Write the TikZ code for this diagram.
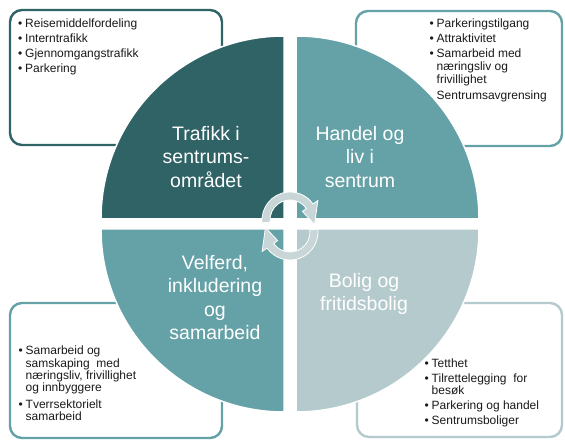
\documentclass[tikz,border=0pt]{standalone}
\usepackage{fontspec}
\setmainfont{Liberation Sans}
\usetikzlibrary{calc}
\definecolor{dk}{HTML}{2F6366}
\definecolor{md}{HTML}{64A2A7}
\definecolor{lt}{HTML}{B4CACD}
\definecolor{arw}{HTML}{C8D6D8}
\definecolor{txt}{HTML}{1A1A1A}
\newcommand\itm[1]{\hbox{\makebox[7pt][l]{•}#1}}
\newcommand\cnt[1]{\hbox{\hspace*{7pt}#1}}
\begin{document}
\begin{tikzpicture}[x=1pt,y=1pt,
 infobox/.style={line width=2.4pt, rounded corners=12pt, fill=white},
 quad/.style={draw=white, line width=1.5pt},
 qtext/.style={text=white, font=\fontsize{19.5}{23.5}\selectfont, align=center, inner sep=0},
 btext/.style={anchor=base west, inner sep=0, font=\fontsize{12}{14}\selectfont, text=txt},
 cyc/.style={fill=arw, draw=white, line width=0.8pt}]
\useasboundingbox (0,0) rectangle (565,441);
\fill[white] (0,0) rectangle (565,441);
% boxes
\draw[infobox, draw=dk] (10,296) rectangle (222,431);
\draw[infobox, draw=md] (356,295) rectangle (562,430);
\draw[infobox, draw=md] (10,3) rectangle (222,138);
\draw[infobox, draw=lt] (357,4) rectangle (562,138);
% quadrants
\filldraw[quad, fill=dk] (284,222) -- (101,222) arc[start angle=180, end angle=90, radius=183] -- cycle;
\filldraw[quad, fill=md] (296,222) -- (296,405) arc[start angle=90, end angle=0, radius=183] -- cycle;
\filldraw[quad, fill=md] (284,212) -- (101,212) arc[start angle=180, end angle=270, radius=183] -- cycle;
\filldraw[quad, fill=lt] (296,212) -- (479,212) arc[start angle=0, end angle=-90, radius=183] -- cycle;
% quadrant texts
\node[qtext] (q1) at (206,284) {Trafikk i\\sentrums-\\området};
\node[qtext] (q2) at (360,284) {Handel og\\liv i\\sentrum};
\node[qtext] (q3) at (215,143.5) {Velferd,\\inkludering\\og\\samarbeid};
\node[qtext] (q4) at (364,147) {Bolig og\\fritidsbolig};
% box texts
\node[btext] (t1) at (18,413) {\vtop{\baselineskip=12.8pt
 \itm{Reisemiddelfordeling}\vskip2pt
 \itm{Interntrafikk}\vskip2pt
 \itm{Gjennomgangstrafikk}\vskip2pt
 \itm{Parkering}}};
\node[btext] (t2) at (429.5,413) {\vtop{\baselineskip=12.7pt
 \itm{Parkeringstilgang}\vskip2.3pt
 \itm{Attraktivitet}\vskip2.3pt
 \itm{Samarbeid med}
 \cnt{næringsliv og}
 \cnt{frivillighet}\vskip3.3pt
 \cnt{Sentrumsavgrensing}}};
\node[btext] (t3) at (18.5,86) {\vtop{\baselineskip=12.2pt
 \itm{Samarbeid og}
 \cnt{samskaping\ \ med}
 \cnt{næringsliv, frivillighet}
 \cnt{og innbyggere}\vskip5pt
 \itm{Tverrsektorielt}
 \cnt{samarbeid}}};
\node[btext] (t4) at (424.5,73) {\vtop{\baselineskip=12pt
 \itm{Tetthet}\vskip3pt
 \itm{Tilrettelegging\ \ for}
 \cnt{besøk}\vskip3pt
 \itm{Parkering og handel}\vskip3pt
 \itm{Sentrumsboliger}}};
% cycle arrows
\coordinate (c1) at (290,221);
\coordinate (c2) at (290,209);
\filldraw[cyc] ($(c1)+(186:28)$) arc[start angle=186, end angle=35, radius=28]
  -- ($(c1)+(35:34)$) -- ($(c1)+(-10:25)$) -- ($(c1)+(35:15)$) -- ($(c1)+(35:20)$)
  arc[start angle=35, end angle=186, radius=20] -- cycle;
\filldraw[cyc] ($(c2)+(6:28)$) arc[start angle=6, end angle=-145, radius=28]
  -- ($(c2)+(-145:34)$) -- ($(c2)+(170:25)$) -- ($(c2)+(-145:15)$) -- ($(c2)+(-145:20)$)
  arc[start angle=-145, end angle=6, radius=20] -- cycle;
\end{tikzpicture}
\end{document}
